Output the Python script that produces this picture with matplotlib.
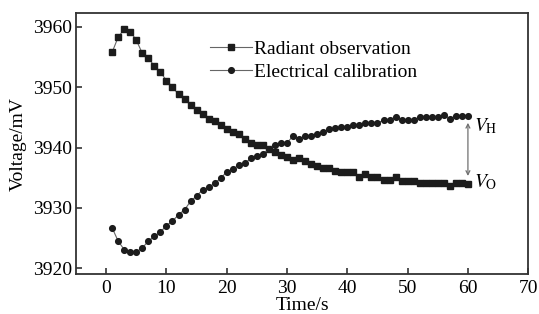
import matplotlib
matplotlib.use("Agg")
import matplotlib.pyplot as plt

plt.rcParams['font.family'] = ['Liberation Serif', 'DejaVu Serif']
plt.rcParams['mathtext.fontset'] = 'stix'
plt.rcParams['font.size'] = 14

# time axis, 1 s steps
time_s = list(range(1, 61))

radiant = [3955.8, 3958.3, 3959.6, 3959.2, 3957.8, 3955.6, 3954.8, 3953.5, 3952.5, 3951.1,
           3950.0, 3948.8, 3948.1, 3947.0, 3946.2, 3945.5, 3944.8, 3944.4, 3943.7, 3943.0,
           3942.6, 3942.2, 3941.5, 3940.8, 3940.4, 3940.4, 3939.7, 3939.3, 3938.8, 3938.4,
           3938.0, 3938.2, 3937.7, 3937.3, 3936.9, 3936.7, 3936.7, 3936.2, 3936.0, 3936.0,
           3936.0, 3935.1, 3935.7, 3935.1, 3935.1, 3934.7, 3934.7, 3935.1, 3934.5, 3934.5,
           3934.5, 3934.1, 3934.1, 3934.1, 3934.1, 3934.1, 3933.6, 3934.2, 3934.2, 3934.0]

electrical = [3926.7, 3924.5, 3923.1, 3922.7, 3922.7, 3923.4, 3924.5, 3925.3, 3926.0, 3927.1,
              3927.8, 3928.9, 3929.7, 3931.1, 3932.0, 3933.0, 3933.4, 3934.1, 3934.9, 3936.0,
              3936.4, 3937.1, 3937.4, 3938.2, 3938.6, 3939.0, 3939.7, 3940.5, 3940.8, 3940.8,
              3941.9, 3941.4, 3941.9, 3942.0, 3942.2, 3942.6, 3943.0, 3943.2, 3943.4, 3943.4,
              3943.8, 3943.7, 3944.1, 3944.1, 3944.1, 3944.5, 3944.5, 3945.1, 3944.6, 3944.5,
              3944.6, 3945.0, 3945.0, 3945.0, 3945.0, 3945.4, 3944.8, 3945.2, 3945.2, 3945.2]

x_ticks = [0, 10, 20, 30, 40, 50, 60, 70]
y_ticks = [3920, 3930, 3940, 3950, 3960]

fig = plt.figure(figsize=(5.39, 3.14), dpi=100)
ax = fig.add_axes([0.141, 0.126, 0.839, 0.833])

mark_col = '#1c1c1c'
line_col = '#666666'

ax.plot(time_s, radiant, color=line_col, lw=0.8, marker='s', ms=3.7,
        mfc=mark_col, mec=mark_col, label='Radiant observation')
ax.plot(time_s, electrical, color=line_col, lw=0.8, marker='o', ms=4.1,
        mfc=mark_col, mec=mark_col, label='Electrical calibration')

# V_H / V_O double arrow at t = 60
ax.annotate('', xy=(60, 3944.1), xytext=(60, 3935.3),
            arrowprops=dict(arrowstyle='<->', color='#707070', lw=0.9,
                            shrinkA=0, shrinkB=0, mutation_scale=7))
ax.text(61.0, 3943.6, r'$V_{\mathrm{H}}$', fontsize=14, va='center', ha='left')
ax.text(61.0, 3934.2, r'$V_{\mathrm{O}}$', fontsize=14, va='center', ha='left')

ax.set_xlim(-5, 70)
ax.set_ylim(3919, 3962.3)
ax.set_xticks(x_ticks)
ax.set_yticks(y_ticks)
ax.tick_params(direction='in', length=4, width=1.2, color='#333333', top=False, right=False)
ax.tick_params(axis='x', pad=4)
ax.tick_params(axis='y', pad=3)
for sp in ax.spines.values():
    sp.set_linewidth(1.3)
    sp.set_color('#333333')

ax.set_xlabel('Time/s', labelpad=0)
ax.set_ylabel('Voltage/mV', labelpad=4)

ax.legend(loc='upper left', bbox_to_anchor=(0.296, 0.894), frameon=False,
          borderpad=0, borderaxespad=0, handlelength=2.15, handletextpad=0.1,
          labelspacing=0.25, numpoints=1)

fig.savefig('out.png', dpi=100)
